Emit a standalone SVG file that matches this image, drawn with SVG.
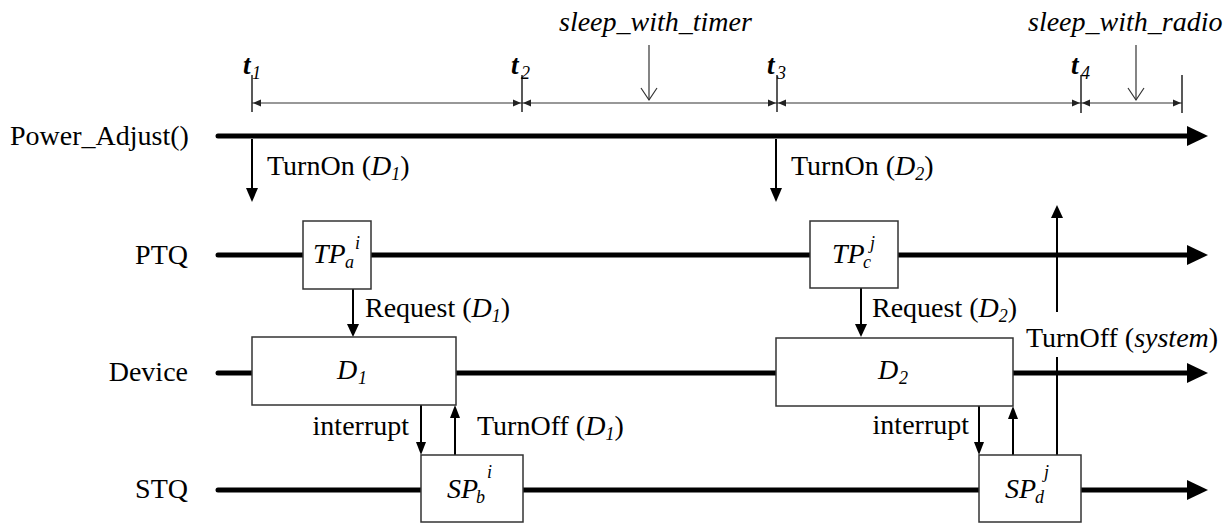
<svg xmlns="http://www.w3.org/2000/svg" width="1231" height="523" viewBox="0 0 1231 523">
  <style>
    text { font-family: "Liberation Serif", "Times New Roman", serif; font-size: 28px; fill: #000; }
    .it { font-style: italic; }
    .sub { font-size: 18px; font-style: italic; }
    .tm { font-style: italic; font-weight: bold; font-size: 27px; }
    .tsub { font-style: italic; font-size: 18px; }
    .lane { stroke: #000; stroke-width: 5; stroke-linecap: round; fill: none; }
    .dim { stroke: #333; stroke-width: 1.2; fill: none; }
    .tick { stroke: #222; stroke-width: 1.5; fill: none; }
    .msg { stroke: #000; stroke-width: 2; fill: none; }
    .box { fill: #fff; stroke: #333; stroke-width: 1.5; }
    .head { fill: #000; stroke: none; }
    .dimhead { fill: #222; stroke: none; }
  </style>

  <!-- lane captions -->
  <g id="lane-labels">
    <text x="10" y="145">Power_Adjust()</text>
    <text x="188" y="264" text-anchor="end">PTQ</text>
    <text x="188" y="381" text-anchor="end">Device</text>
    <text x="188" y="498" text-anchor="end">STQ</text>
  </g>

  <!-- lanes with arrow ends -->
  <g id="lanes">
    <line class="lane" x1="218" y1="136" x2="1192" y2="136"/>
    <polygon class="head" points="1187,126 1208,136 1187,146"/>
    <line class="lane" x1="218" y1="255" x2="1192" y2="255"/>
    <polygon class="head" points="1187,245 1208,255 1187,265"/>
    <line class="lane" x1="218" y1="373" x2="1192" y2="373"/>
    <polygon class="head" points="1187,363 1208,373 1187,383"/>
    <line class="lane" x1="218" y1="490" x2="1192" y2="490"/>
    <polygon class="head" points="1187,480 1208,490 1187,500"/>
  </g>

  <!-- time axis with interval markers -->
  <g id="timeline">
    <line class="dim" x1="252" y1="103" x2="1182" y2="103"/>
    <line class="tick" x1="252" y1="75" x2="252" y2="112"/>
    <line class="tick" x1="522" y1="75" x2="522" y2="112"/>
    <line class="tick" x1="777" y1="75" x2="777" y2="112"/>
    <line class="tick" x1="1081" y1="75" x2="1081" y2="113"/>
    <line class="tick" x1="1182" y1="75" x2="1182" y2="113"/>
    <polygon class="dimhead" points="253,103 261,99.5 261,106.5"/>
    <polygon class="dimhead" points="521,103 513,99.5 513,106.5"/>
    <polygon class="dimhead" points="523,103 531,99.5 531,106.5"/>
    <polygon class="dimhead" points="776,103 768,99.5 768,106.5"/>
    <polygon class="dimhead" points="778,103 786,99.5 786,106.5"/>
    <polygon class="dimhead" points="1080,103 1072,99.5 1072,106.5"/>
    <polygon class="dimhead" points="1082,103 1090,99.5 1090,106.5"/>
    <polygon class="dimhead" points="1181,103 1173,99.5 1173,106.5"/>

    <text class="tm" x="243" y="74">t</text><text class="tsub" x="252" y="79">1</text>
    <text class="tm" x="511" y="74">t</text><text class="tsub" x="521" y="79">2</text>
    <text class="tm" x="767" y="74">t</text><text class="tsub" x="777" y="79">3</text>
    <text class="tm" x="1071" y="74">t</text><text class="tsub" x="1081" y="79">4</text>

    <text class="it" x="559" y="31">sleep_with_timer</text>
    <line class="dim" x1="649" y1="45" x2="649" y2="100"/>
    <polyline class="dim" points="641,88 649,100 657,88"/>
    <text class="it" x="1028" y="31">sleep_with_radio</text>
    <line class="dim" x1="1136" y1="45" x2="1136" y2="100"/>
    <polyline class="dim" points="1128,88 1136,100 1144,88"/>
  </g>

  <!-- message connectors -->
  <g id="connectors">
    <line class="msg" x1="252" y1="139" x2="252" y2="190"/>
    <polygon class="head" points="246,188 252,202 258,188"/>
    <line class="msg" x1="776" y1="139" x2="776" y2="190"/>
    <polygon class="head" points="770,188 776,202 782,188"/>

    <line class="msg" x1="353" y1="289" x2="353" y2="326"/>
    <polygon class="head" points="347,324 353,337 359,324"/>
    <line class="msg" x1="861" y1="288" x2="861" y2="326"/>
    <polygon class="head" points="855,324 861,337 867,324"/>

    <line class="msg" x1="421" y1="405" x2="421" y2="444"/>
    <polygon class="head" points="416,442 421,455 426,442"/>
    <line class="msg" x1="455" y1="455" x2="455" y2="416"/>
    <polygon class="head" points="450,418 455,405 460,418"/>

    <line class="msg" x1="979" y1="406" x2="979" y2="444"/>
    <polygon class="head" points="974,442 979,455 984,442"/>
    <line class="msg" x1="1013" y1="455" x2="1013" y2="417"/>
    <polygon class="head" points="1008,419 1013,406 1018,419"/>

    <line class="msg" x1="1057" y1="455" x2="1057" y2="357"/>
    <line class="msg" x1="1057" y1="312" x2="1057" y2="216"/>
    <polygon class="head" points="1051,218 1057,205 1063,218"/>
  </g>

  <!-- message labels -->
  <g id="message-labels">
    <text x="267" y="175">TurnOn (<tspan class="it">D</tspan><tspan class="sub" dy="5">1</tspan><tspan dy="-5">)</tspan></text>
    <text x="791" y="175">TurnOn (<tspan class="it">D</tspan><tspan class="sub" dy="5">2</tspan><tspan dy="-5">)</tspan></text>
    <text x="365" y="317">Request (<tspan class="it">D</tspan><tspan class="sub" dy="5">1</tspan><tspan dy="-5">)</tspan></text>
    <text x="872" y="317">Request (<tspan class="it">D</tspan><tspan class="sub" dy="5">2</tspan><tspan dy="-5">)</tspan></text>
    <text x="409" y="435" text-anchor="end">interrupt</text>
    <text x="477" y="435">TurnOff (<tspan class="it">D</tspan><tspan class="sub" dy="5">1</tspan><tspan dy="-5">)</tspan></text>
    <text x="969" y="434" text-anchor="end">interrupt</text>
    <text x="1026" y="347">TurnOff (<tspan class="it">system</tspan>)</text>
  </g>

  <!-- task and device nodes -->
  <g id="node-TPa">
    <rect class="box" x="303" y="221" width="68" height="68"/>
    <text class="it" x="313" y="263">TP</text>
    <text class="sub" x="345" y="268">a</text>
    <text class="sub" x="355" y="249">i</text>
  </g>
  <g id="node-TPc">
    <rect class="box" x="810" y="221" width="88" height="67"/>
    <text class="it" x="832" y="263">TP</text>
    <text class="sub" x="863" y="268">c</text>
    <text class="sub" x="870" y="249">j</text>
  </g>
  <g id="node-D1">
    <rect class="box" x="252" y="337" width="204" height="68"/>
    <text class="it" x="337" y="379">D</text>
    <text class="sub" x="358" y="384">1</text>
  </g>
  <g id="node-D2">
    <rect class="box" x="776" y="338" width="237" height="68"/>
    <text class="it" x="878" y="379">D</text>
    <text class="sub" x="899" y="384">2</text>
  </g>
  <g id="node-SPb">
    <rect class="box" x="421" y="455" width="102" height="67"/>
    <text class="it" x="447" y="498">SP</text>
    <text class="sub" x="476" y="503">b</text>
    <text class="sub" x="487" y="478">i</text>
  </g>
  <g id="node-SPd">
    <rect class="box" x="979" y="455" width="102" height="67"/>
    <text class="it" x="1005" y="498">SP</text>
    <text class="sub" x="1035" y="503">d</text>
    <text class="sub" x="1044" y="478">j</text>
  </g>
</svg>
